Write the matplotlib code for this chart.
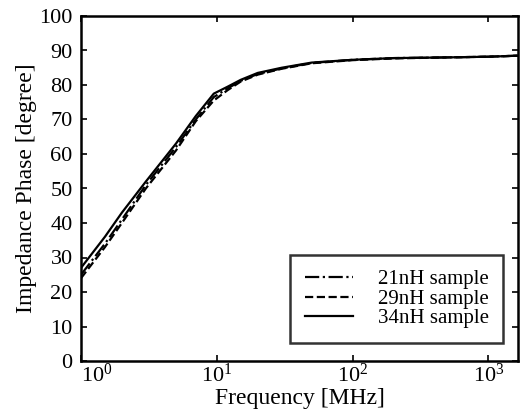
import numpy as np
import matplotlib.pyplot as plt

# frequency points (MHz)
freq = [1, 1.5, 2, 3, 5, 7, 9.5, 12, 15, 20, 30, 50, 100, 200, 500, 1000, 1650]
# impedance phase (degree)
phase_21 = [25, 34, 41, 51, 62, 70, 76.5, 79, 81.2, 83.2, 84.8, 86.4, 87.3, 87.8, 88.0, 88.2, 88.5]
phase_29 = [24, 33, 40, 50, 61, 69.5, 75.5, 78.5, 81.0, 83.0, 84.7, 86.3, 87.2, 87.7, 88.0, 88.2, 88.5]
phase_34 = [27, 36, 43, 52, 63, 71, 77.5, 79.5, 81.5, 83.5, 85.0, 86.5, 87.3, 87.8, 88.0, 88.2, 88.5]
labels = ["21nH sample", "29nH sample", "34nH sample"]


def main():
    plt.rcParams['font.family'] = ['Liberation Serif', 'DejaVu Serif']
    fig = plt.figure(figsize=(5.27, 4.15), dpi=100)
    ax = fig.add_axes([81/527, 1 - 361/415, (518-81)/527, (361-16)/415])

    ax.plot(freq, phase_21, color='k', lw=1.6, ls='-.', label=labels[0])
    ax.plot(freq, phase_29, color='k', lw=1.6, ls='--', label=labels[1])
    ax.plot(freq, phase_34, color='k', lw=1.6, ls='-', label=labels[2])

    ax.set_xscale('log')
    ax.set_xlim(1, 1650)
    ax.set_xticks([1, 10, 100, 1000])
    ax.set_ylim(0, 100)
    ax.set_yticks(np.arange(0, 101, 10))
    ax.minorticks_off()
    ax.tick_params(direction='in', top=True, right=True, labelsize=16, length=4, width=1.2)
    ax.tick_params(axis='x', pad=2)
    ax.tick_params(axis='y', pad=6)
    for s in ax.spines.values():
        s.set_linewidth(1.8)

    ax.set_xlabel("Frequency [MHz]", fontsize=17, labelpad=1)
    ax.set_ylabel("Impedance Phase [degree]", fontsize=17, labelpad=2)

    # first x label sits right of the corner, as in the original
    ax.get_xticklabels()[0].set_horizontalalignment('left')

    leg = ax.legend(loc='lower right', bbox_to_anchor=(0.966, 0.052), fontsize=15,
                    fancybox=False, edgecolor='k', handlelength=2.3,
                    handletextpad=1.2, borderpad=0.7, labelspacing=0.0,
                    borderaxespad=0)
    leg.get_frame().set_linewidth(1.8)

    fig.savefig("out.png", dpi=100)


if __name__ == '__main__':
    main()
